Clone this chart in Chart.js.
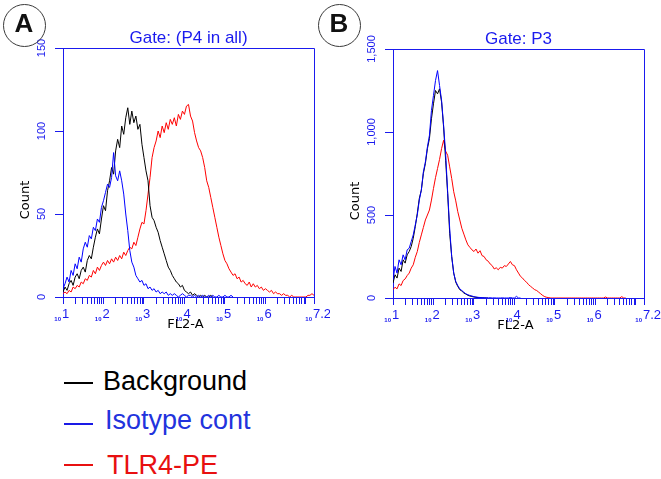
<!DOCTYPE html>
<html>
<head>
<meta charset="utf-8">
<title>FL2-A histograms</title>
<script src="https://cdn.jsdelivr.net/npm/chart.js@4.4.1/dist/chart.umd.min.js"></script>
<style>
  html, body { margin: 0; padding: 0; background: #fff; }
  body { width: 661px; height: 479px; position: relative; overflow: hidden; font-family: "Liberation Sans", Arial, sans-serif; }
  canvas { position: absolute; top: 0; }
  #histA { left: 0; }
  #histB { left: 330px; }
  .badge { position: absolute; top: 3.5px; width: 43px; height: 43px; box-sizing: border-box; border: 1.5px solid #3a3a3a; border-radius: 50%; text-align: center; font: bold 26px "Liberation Sans", Arial, sans-serif; line-height: 36px; color: #111; }
  .swatch { position: absolute; left: 64px; width: 29px; height: 2px; }
  .label { position: absolute; font-size: 27px; line-height: 27px; white-space: nowrap; }
</style>
</head>
<body>
<canvas id="histA" width="330" height="340"></canvas>
<canvas id="histB" width="331" height="340"></canvas>
<div class="badge" style="left:2.5px">A</div>
<div class="badge" style="left:317.5px">B</div>

<div class="swatch" style="top:382px;background:#000"></div>
<div class="label" style="left:103px;top:368px;color:#000">Background</div>
<div class="swatch" style="top:423px;background:#1a1ae6"></div>
<div class="label" style="left:105px;top:407px;color:#2233dd">Isotype cont</div>
<div class="swatch" style="top:464px;background:#e81010"></div>
<div class="label" style="left:107px;top:452px;color:#e81010">TLR4-PE</div>

<script>
// histogram bins: log10(FL2-A), 0.05 decade wide, first bin at 10^1
const BIN0 = 1.0;
const BIN_STEP = 0.05;

// Panel A - Gate: (P4 in all), counts per bin
const backgroundA = [
  3, 6, 4, 8, 10, 7, 12, 14, 11, 16,
  18, 15, 22, 25, 23, 30, 36, 41, 38, 47,
  55, 52, 64, 70, 78, 74, 88, 95, 90, 103,
  98, 108, 114, 104, 112, 105, 109, 101, 104, 92,
  84, 76, 70, 55, 48, 46, 42, 39, 34, 30,
  26, 22, 18, 16, 13, 11, 9, 8, 6, 7,
  4, 3, 2, 3, 1, 2, 1, 0, 1, 0,
  1, 0, 0, 1, 0
];
const isotypeA = [
  5, 8, 12, 9, 16, 13, 20, 17, 24, 21,
  29, 33, 30, 37, 35, 42, 40, 47, 45, 54,
  58, 63, 68, 66, 72, 87, 73, 70, 76, 70,
  62, 50, 40, 28, 21, 18, 13, 11, 9, 10,
  7, 8, 5, 6, 4, 5, 3, 4, 2, 3,
  2, 3, 1, 2, 1, 2, 1, 0, 1, 2,
  1, 0, 1, 1, 0, 1, 0, 1, 0, 1,
  0, 0, 1, 0, 1, 0, 0, 1, 0, 0,
  1, 0, 0, 1, 0
];
const tlr4A = [
  2, 3, 2, 4, 3, 6, 5, 7, 6, 9,
  8, 11, 10, 13, 12, 16, 14, 18, 16, 19,
  21, 19, 22, 20, 23, 21, 24, 22, 25, 23,
  27, 25, 28, 30, 29, 33, 31, 36, 41, 45,
  44, 52, 62, 72, 84, 90, 94, 100, 96, 103,
  99, 105, 101, 107, 104, 108, 103, 110, 107, 112,
  110, 115, 116, 109, 106, 99, 94, 90, 88, 84,
  78, 70, 66, 60, 54, 48, 42, 36, 31, 26,
  22, 20, 17, 15, 13, 14, 11, 12, 9, 10,
  8, 7, 9, 6, 8, 6, 7, 5, 6, 4,
  5, 4, 3, 4, 2, 3, 2, 2, 1, 2,
  1, 1, 0, 1, 0, 0, 0, 0, 0, 0,
  0, 1, 1, 2, 1
];

// Panel B - Gate: P3, counts per bin
const backgroundB = [
  90, 140, 120, 180, 160, 230, 210, 260, 280, 310,
  360, 430, 510, 600, 650, 750, 810, 900, 960, 1080,
  1170, 1250, 1230, 1260, 1180, 1030, 830, 630, 390, 250,
  150, 95, 70, 50, 42, 30, 24, 16, 12, 9,
  6, 4, 3, 2, 1, 0, 0, 0
];
const isotypeB = [
  110, 190, 150, 230, 200, 260, 230, 290, 300, 340,
  380, 440, 500, 590, 650, 760, 820, 910, 980, 1130,
  1220, 1310, 1370, 1280, 1190, 1040, 870, 640, 420, 250,
  150, 100, 75, 55, 45, 35, 25, 20, 15, 12,
  8, 6, 4, 3, 2, 2, 1, 0, 2, 0,
  1, 0, 0, 0, 1, 0, 0, 0, 3, 0,
  0, 10, 0, 0
];
const tlr4B = [
  50, 65, 55, 85, 75, 105, 115, 135, 150, 180,
  200, 245, 280, 335, 380, 425, 470, 500, 530, 590,
  660, 725, 780, 835, 900, 950, 885, 860, 790, 720,
  640, 585, 520, 470, 420, 385, 350, 320, 305, 290,
  280, 295, 270, 285, 255, 250, 230, 222, 205, 195,
  175, 182, 170, 185, 180, 195, 190, 205, 220, 200,
  195, 170, 150, 130, 120, 105, 95, 80, 70, 60,
  50, 45, 35, 25, 15, 8, 4, 2, 0, 0,
  0, 0, 0, 0, 0, 0, 0, 0, 0, 0,
  0, 0, 0, 0, 0, 0, 0, 0, 0, 0,
  0, 0, 0, 0, 0, 6, 0, 0, 0, 0,
  0, 0, 0, 8, 0, 0
];

const seriesNames = ['Isotype cont', 'Background', 'TLR4-PE'];

// x tick labels: 10 with the exponent written after it
const xLabelExps = [1, 2, 3, 4, 5, 6, 7.2];
const xLabelTexts = ['1', '2', '3', '4', '5', '6', '7.2'];
const yTicksA = [0, 50, 100, 150];
const yLabelsA = ['0', '50', '100', '150'];
const yTicksB = [0, 500, 1000, 1500];
const yLabelsB = ['0', '500', '1,000', '1,500'];

const AXIS_BLUE = '#1a1aee';
const lineColors = ['#0000ff', '#000000', '#ff0000'];
const FONT = '"Liberation Sans", Arial, sans-serif';

// log ticks 1..9 per decade, plus the top of the range
const xTickPositions = [];
for (let d = 1; d <= 6; d++) {
  for (let k = 1; k <= 9; k++) xTickPositions.push(d + Math.log10(k));
}
xTickPositions.push(7, 7.2);

function toPoints(counts) {
  return counts.map((c, i) => ({ x: BIN0 + i * BIN_STEP, y: c }));
}

// box, gate title, rotated y labels and 10^n labels
const flowFrame = {
  id: 'flowFrame',
  afterDraw(chart, args, opts) {
    const { ctx, chartArea: a } = chart;
    const x = chart.scales.x, y = chart.scales.y;
    ctx.save();
    ctx.strokeStyle = AXIS_BLUE;
    ctx.lineWidth = 1;
    ctx.beginPath();
    ctx.moveTo(a.left + 0.5, a.top + 0.5);
    ctx.lineTo(a.right + 0.5, a.top + 0.5);
    ctx.lineTo(a.right + 0.5, a.bottom + 0.5);
    ctx.stroke();

    ctx.fillStyle = AXIS_BLUE;
    ctx.textBaseline = 'alphabetic';
    ctx.font = '17px ' + FONT;
    ctx.textAlign = 'center';
    ctx.fillText(opts.gate, (a.left + a.right) / 2, a.top - 5);

    ctx.font = '11px ' + FONT;
    opts.yTicks.forEach((v, i) => {
      ctx.save();
      ctx.translate(a.left - 18, y.getPixelForValue(v));
      ctx.rotate(-Math.PI / 2);
      ctx.fillText(opts.yLabels[i], 0, 0);
      ctx.restore();
    });

    xLabelExps.forEach((e, i) => {
      const px = x.getPixelForValue(e);
      ctx.font = 'bold 6px ' + FONT;
      ctx.textAlign = 'right';
      ctx.fillText('10', px - 2, a.bottom + 24);
      ctx.font = '13px ' + FONT;
      ctx.textAlign = 'left';
      ctx.fillText(xLabelTexts[i], px - 1, a.bottom + 21);
    });

    ctx.fillStyle = '#000';
    ctx.font = '13px "DejaVu Sans", sans-serif';
    ctx.textAlign = 'center';
    ctx.fillText('FL2-A', (a.left + a.right) / 2 - 3, a.bottom + 31);
    ctx.save();
    ctx.translate(a.left - 34.5, a.top + 152);
    ctx.rotate(-Math.PI / 2);
    ctx.fillText('Count', 0, 0);
    ctx.restore();
    ctx.restore();
  }
};

function makeHistogram(canvasId, gate, series, yMax, yTicks, yLabels, pad) {
  const ctx = document.getElementById(canvasId).getContext('2d');
  return new Chart(ctx, {
    type: 'line',
    data: {
      datasets: series.map((counts, i) => ({
        label: seriesNames[i],
        data: toPoints(counts),
        borderColor: lineColors[i],
        borderWidth: 1,
        pointRadius: 0,
        tension: 0,
        fill: false,
        order: i
      }))
    },
    options: {
      responsive: false,
      animation: false,
      events: [],
      layout: { padding: pad },
      plugins: {
        legend: { display: false },
        tooltip: { enabled: false },
        flowFrame: { gate: gate, yTicks: yTicks, yLabels: yLabels }
      },
      scales: {
        x: {
          type: 'linear',
          min: 1,
          max: 7.2,
          afterBuildTicks: s => { s.ticks = xTickPositions.map(v => ({ value: v })); },
          ticks: { display: false, autoSkip: false },
          grid: { drawOnChartArea: false, drawTicks: true, tickLength: 7, color: AXIS_BLUE, tickColor: AXIS_BLUE, lineWidth: 1 },
          border: { display: true, color: AXIS_BLUE, width: 1 }
        },
        y: {
          min: 0,
          max: yMax,
          afterBuildTicks: s => { s.ticks = yTicks.map(v => ({ value: v })); },
          ticks: { display: false, autoSkip: false },
          grid: { drawOnChartArea: false, drawTicks: true, tickLength: 8, color: AXIS_BLUE, tickColor: AXIS_BLUE, lineWidth: 1 },
          border: { display: true, color: AXIS_BLUE, width: 1 }
        }
      }
    },
    plugins: [flowFrame]
  });
}

makeHistogram('histA', 'Gate: (P4 in all)', [isotypeA, backgroundA, tlr4A], 150, yTicksA, yLabelsA,
  { left: 55, top: 48, right: 16, bottom: 36 });
makeHistogram('histB', 'Gate: P3', [isotypeB, backgroundB, tlr4B], 1500, yTicksB, yLabelsB,
  { left: 55, top: 49, right: 17, bottom: 35 });
</script>
</body>
</html>
